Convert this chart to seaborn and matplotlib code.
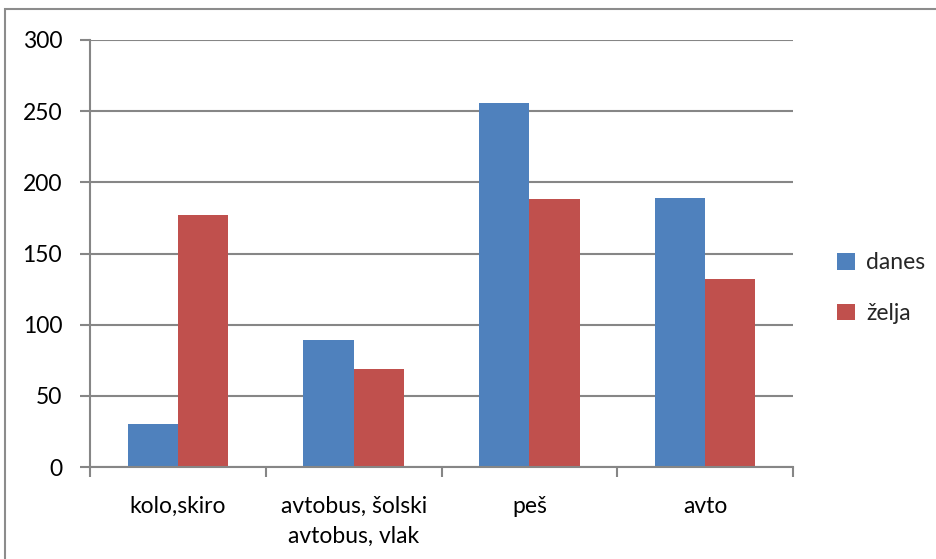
import pandas as pd
import numpy as np
import matplotlib.pyplot as plt
import seaborn as sns
from matplotlib.patches import Rectangle, Patch

categories = ['kolo,skiro', 'avtobus, šolski\navtobus, vlak', 'peš', 'avto']
series_names = ['danes', 'želja']
danes = [30, 89, 256, 189]
zelja = [177, 69, 188, 132]
y_ticks = [0, 50, 100, 150, 200, 250, 300]

colors = ['#4F81BD', '#C0504D']
grid_color = '#868686'

df = pd.DataFrame({
    'kategorija': categories * 2,
    'serija': [series_names[0]] * 4 + [series_names[1]] * 4,
    'vrednost': danes + zelja,
})

sns.set_theme(style='white')
plt.rcParams['font.family'] = ['Lato', 'DejaVu Sans']
fs = 16.5

fig = plt.figure(figsize=(9.36, 5.59), dpi=100)
ax = fig.add_axes([90 / 936, 1 - 467 / 559, 703 / 936, 427 / 559])

sns.barplot(data=df, x='kategorija', y='vrednost', hue='serija',
            palette=colors, width=0.572, saturation=1, ax=ax,
            edgecolor='none', legend=False)

ax.set_xlim(-0.5, 3.5)
ax.set_ylim(0, 300)
ax.set_yticks(y_ticks)
ax.set_yticklabels([str(t) for t in y_ticks], fontsize=fs, color='black')
ax.yaxis.grid(True, color=grid_color, linewidth=1.5)
ax.set_axisbelow(True)
ax.set_xlabel('')
ax.set_ylabel('')

# category labels in the middle, tick marks on the boundaries
ax.set_xticks(range(len(categories)))
ax.set_xticklabels(categories, fontsize=fs, color='black', linespacing=1.5)
ax.tick_params(axis='x', which='major', length=0, pad=21)
ax.set_xticks(np.arange(-0.5, 4, 1), minor=True)
ax.tick_params(axis='x', which='minor', direction='out', length=7,
               width=1.5, color=grid_color, bottom=True)
ax.tick_params(axis='y', direction='out', length=7, width=1.5,
               color=grid_color, left=True, pad=13)

for side in ['top', 'right']:
    ax.spines[side].set_visible(False)
for side in ['left', 'bottom']:
    ax.spines[side].set_color(grid_color)
    ax.spines[side].set_linewidth(1.5)

handles = [Patch(facecolor=c, edgecolor='none') for c in colors]
fig.legend(handles, series_names, loc='center left',
           bbox_to_anchor=(826 / 936, 1 - 288 / 559), frameon=False,
           fontsize=fs, handlelength=0.75, handleheight=0.75,
           handletextpad=0.5, labelspacing=1.3, borderpad=0)

# outer chart border
fig.patches.append(Rectangle((5 / 936, -0.05), 1.2, 1 - 9 / 559 + 0.05,
                             transform=fig.transFigure, fill=False,
                             edgecolor='#8c8c8c', linewidth=1.5))

fig.savefig('out.png', dpi=100)
